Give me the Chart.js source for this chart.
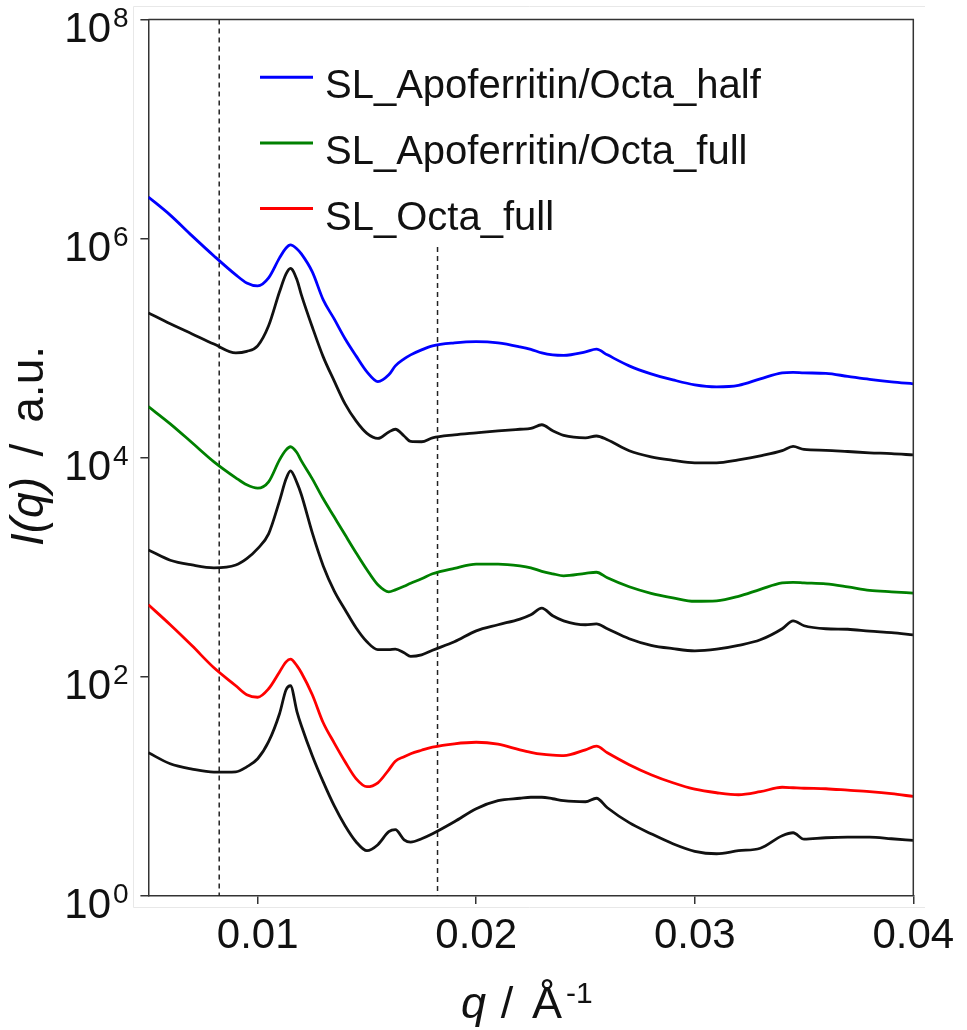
<!DOCTYPE html>
<html>
<head>
<meta charset="utf-8">
<script src="https://cdn.jsdelivr.net/npm/chart.js@4.4.0/dist/chart.umd.min.js"></script>
<style>
  html, body { margin: 0; padding: 0; background: #fff; }
  #wrap { width: 967px; height: 1030px; }
</style>
</head>
<body>
<div id="wrap"><canvas id="chart"></canvas></div>
<script>
// q grid (1/Angstrom)
const qValues = [0.005, 0.006, 0.007, 0.008, 0.009, 0.0095, 0.010, 0.0105, 0.011, 0.0113,
  0.0115, 0.0118, 0.012, 0.0125, 0.013, 0.0135, 0.014, 0.0145, 0.015, 0.0155,
  0.016, 0.0163, 0.0167, 0.017, 0.0175, 0.018, 0.019, 0.020, 0.021, 0.022,
  0.0225, 0.023, 0.0235, 0.024, 0.025, 0.0255, 0.026, 0.027, 0.028, 0.029,
  0.030, 0.031, 0.032, 0.033, 0.034, 0.0345, 0.035, 0.036, 0.037, 0.038, 0.039, 0.040];

// SL_Apoferritin/Octa_half (blue)
const apoOctaHalf = [2.4e6, 1.64e6, 1.06e6, 6.95e5, 4.67e5, 3.94e5, 3.70e5, 4.38e5, 6.67e5, 8.22e5,
  8.76e5, 8.05e5, 7.25e5, 4.97e5, 2.76e5, 1.85e5, 1.22e5, 8.51e4, 6.08e4, 4.96e4,
  5.71e4, 6.90e4, 7.99e4, 8.69e4, 9.65e4, 1.05e5, 1.12e5, 1.15e5, 1.12e5, 1.03e5,
  9.75e4, 9.06e4, 8.69e4, 8.60e4, 9.25e4, 9.79e4, 8.69e4, 6.90e4, 5.83e4, 5.14e4,
  4.63e4, 4.44e4, 4.58e4, 5.25e4, 5.95e4, 6.02e4, 5.95e4, 5.89e4, 5.53e4, 5.19e4, 4.93e4, 4.73e4];
// black curve under the blue one
const blackUpper = [2.10e5, 1.67e5, 1.35e5, 1.09e5, 9.06e4, 9.35e4, 1.05e5, 1.60e5, 3.27e5, 4.76e5,
  5.35e5, 4.20e5, 3.07e5, 1.56e5, 8.33e4, 5.03e4, 3.10e4, 2.17e4, 1.67e4, 1.50e4,
  1.72e4, 1.82e4, 1.58e4, 1.41e4, 1.40e4, 1.52e4, 1.62e4, 1.69e4, 1.76e4, 1.82e4,
  1.85e4, 2.00e4, 1.76e4, 1.60e4, 1.52e4, 1.58e4, 1.46e4, 1.16e4, 1.02e4, 9.47e3,
  8.98e3, 8.98e3, 9.57e3, 1.04e4, 1.16e4, 1.27e4, 1.19e4, 1.17e4, 1.14e4, 1.11e4, 1.09e4, 1.06e4];
// SL_Apoferritin/Octa_full (green)
const apoOctaFull = [2.93e4, 2.04e4, 1.37e4, 9.18e3, 6.56e3, 5.66e3, 5.28e3, 6.03e3, 9.57e3, 1.18e4,
  1.26e4, 1.11e4, 9.37e3, 6.42e3, 4.22e3, 2.89e3, 1.98e3, 1.36e3, 949, 692,
  598, 623, 671, 715, 786, 873, 979, 1.07e3, 1.07e3, 1.03e3,
  990, 919, 873, 837, 882, 901, 802, 664, 579, 527,
  490, 495, 544, 630, 722, 730, 722, 707, 664, 617, 598, 582];
// black curve under the green one
const blackMiddle = [1.44e3, 1.16e3, 1.05e3, 990, 1.05e3, 1.20e3, 1.48e3, 2.02e3, 4.04e3, 6.42e3,
  7.60e3, 5.90e3, 4.59e3, 2.06e3, 1.03e3, 611, 410, 281, 209, 177,
  177, 179, 166, 154, 159, 175, 209, 263, 299, 337,
  369, 424, 361, 325, 299, 305, 275, 223, 194, 181,
  173, 179, 194, 218, 275, 325, 293, 275, 272, 261, 253, 242];
// SL_Octa_full (red)
const octaFull = [455, 299, 192, 121, 83.0, 68.7, 65.2, 77.9, 111, 137,
  145, 126, 109, 68.7, 38.1, 25.0, 16.8, 11.8, 9.94, 10.8,
  14.2, 17.0, 18.7, 19.9, 21.4, 22.8, 24.5, 25.3, 24.3, 21.6,
  20.5, 19.7, 19.3, 19.1, 21.6, 23.3, 20.3, 15.8, 12.8, 10.8,
  9.43, 8.76, 8.40, 8.95, 9.83, 9.73, 9.63, 9.53, 9.24, 8.95, 8.58, 8.11];
// black curve under the red one
const blackLower = [20.3, 16.1, 14.4, 13.5, 13.6, 15.1, 17.9, 25.6, 46.1, 76.3,
  83.0, 48.0, 35.8, 19.1, 11.0, 6.67, 4.38, 3.13, 2.59, 2.94,
  3.86, 4.03, 3.26, 3.10, 3.33, 3.70, 4.76, 6.26, 7.41, 7.80,
  7.97, 7.97, 7.72, 7.41, 7.25, 7.80, 6.39, 4.67, 3.70, 3.00,
  2.56, 2.43, 2.59, 2.73, 3.55, 3.78, 3.30, 3.40, 3.44, 3.44, 3.33, 3.22];

// dashed marker lines
const dashQ = [0.00824, 0.01823];
const dashTop = [1e8, 8.4e5];
const dashBottom = 1;

// ticks
const xTickValues = [0.01, 0.02, 0.03, 0.04];
const xTickLabels = ['0.01', '0.02', '0.03', '0.04'];
const yTickValues = [1, 1e2, 1e4, 1e6, 1e8];
const yTickExps = ['0', '2', '4', '6', '8'];

const legendLabels = ['SL_Apoferritin/Octa_half', 'SL_Apoferritin/Octa_full', 'SL_Octa_full'];
const legendColors = ['#0000ff', '#008000', '#ff0000'];

const FONT = '"Liberation Sans", Arial, Helvetica, sans-serif';

function toPoints(values) {
    return qValues.map((q, i) => ({ x: q, y: values[i] }));
}

function curve(values, color) {
    return {
        data: toPoints(values),
        borderColor: color,
        borderWidth: 2.8,
        pointRadius: 0,
        cubicInterpolationMode: 'monotone',
        fill: false
    };
}

const datasets = [
    curve(apoOctaHalf, legendColors[0]),
    curve(blackUpper, '#111111'),
    curve(apoOctaFull, legendColors[1]),
    curve(blackMiddle, '#111111'),
    curve(octaFull, legendColors[2]),
    curve(blackLower, '#111111')
];
dashQ.forEach((q, i) => {
    datasets.push({
        data: [{ x: q, y: dashTop[i] }, { x: q, y: dashBottom }],
        borderColor: '#222222',
        borderWidth: 1.5,
        borderDash: [5, 4],
        pointRadius: 0,
        fill: false
    });
});

// Draws the frame, tick labels, axis titles and legend
const decorPlugin = {
    id: 'decor',
    beforeDraw(chart) {
        const ctx = chart.ctx;
        ctx.save();
        ctx.fillStyle = '#ffffff';
        ctx.fillRect(0, 0, chart.width, chart.height);
        ctx.strokeStyle = '#e8e8e8';
        ctx.lineWidth = 1;
        ctx.beginPath();
        ctx.moveTo(925, 6.5);
        ctx.lineTo(133.5, 6.5);
        ctx.lineTo(133.5, 907.5);
        ctx.lineTo(925, 907.5);
        ctx.stroke();
        ctx.restore();
    },
    afterDraw(chart) {
        const ctx = chart.ctx;
        const xs = chart.scales.x;
        const ys = chart.scales.y;
        const area = chart.chartArea;
        ctx.save();

        // top and right spines
        ctx.strokeStyle = '#333333';
        ctx.lineWidth = 1.5;
        ctx.beginPath();
        ctx.moveTo(area.left, area.top);
        ctx.lineTo(area.right, area.top);
        ctx.lineTo(area.right, area.bottom);
        ctx.stroke();

        ctx.fillStyle = '#111111';
        ctx.textBaseline = 'alphabetic';

        // y tick labels 10^n
        yTickValues.forEach((v, i) => {
            const y = ys.getPixelForValue(v);
            ctx.font = '42px ' + FONT;
            ctx.textAlign = 'right';
            ctx.fillText('10', 111, y + 22);
            ctx.font = '28px ' + FONT;
            ctx.textAlign = 'left';
            ctx.fillText(yTickExps[i], 113, y + 7);
        });

        // x tick labels
        ctx.font = '42px ' + FONT;
        ctx.textAlign = 'center';
        xTickValues.forEach((v, i) => {
            ctx.fillText(xTickLabels[i], xs.getPixelForValue(v), 948);
        });

        // x title: q / Å^-1
        ctx.textAlign = 'left';
        ctx.font = 'italic 45px ' + FONT;
        ctx.fillText('q', 461, 1018);
        ctx.font = '45px ' + FONT;
        ctx.textAlign = 'center';
        ctx.fillText('/', 507, 1018);
        ctx.textAlign = 'left';
        ctx.fillText('Å', 532, 1018);
        ctx.font = '30px ' + FONT;
        ctx.fillText('-1', 566, 1003);

        // y title: I(q) / a.u.  (rotated, reading upwards)
        ctx.save();
        ctx.translate(43, 0);
        ctx.rotate(-Math.PI / 2);
        ctx.font = 'italic 46px ' + FONT;
        ctx.textAlign = 'left';
        ctx.fillText('I(q)', -546, 0);
        ctx.font = '46px ' + FONT;
        ctx.textAlign = 'center';
        ctx.fillText('/', -450, 0);
        ctx.textAlign = 'right';
        ctx.fillText('a.u.', -346, 0);
        ctx.restore();

        // legend
        legendLabels.forEach((label, i) => {
            const ly = 77.3 + i * 65.6;
            ctx.strokeStyle = legendColors[i];
            ctx.lineWidth = 3;
            ctx.beginPath();
            ctx.moveTo(260, ly);
            ctx.lineTo(313, ly);
            ctx.stroke();
            ctx.font = '40px ' + FONT;
            ctx.fillStyle = '#111111';
            ctx.textAlign = 'left';
            ctx.fillText(label, 325, ly + 21);
        });

        ctx.restore();
    }
};

new Chart(document.getElementById('chart').getContext('2d'), {
    type: 'line',
    data: { datasets: datasets },
    options: {
        responsive: true,
        maintainAspectRatio: false,
        animation: false,
        layout: { padding: { left: 0, top: 19.5, right: 53.7, bottom: 0 } },
        scales: {
            x: {
                type: 'linear',
                min: 0.005,
                max: 0.04,
                afterBuildTicks: scale => {
                    scale.ticks = xTickValues.map(v => ({ value: v }));
                },
                afterFit: scale => { scale.height = 134; },
                ticks: { display: false },
                grid: {
                    drawOnChartArea: false,
                    drawTicks: true,
                    tickLength: 8,
                    color: '#333333',
                    lineWidth: 1.5
                },
                border: { display: true, color: '#333333', width: 1.5 }
            },
            y: {
                type: 'logarithmic',
                min: 1,
                max: 1e8,
                afterBuildTicks: scale => {
                    scale.ticks = yTickValues.map(v => ({ value: v }));
                },
                afterFit: scale => { scale.width = 148.4; },
                ticks: { display: false },
                grid: {
                    drawOnChartArea: false,
                    drawTicks: true,
                    tickLength: 8,
                    color: '#333333',
                    lineWidth: 1.5
                },
                border: { display: true, color: '#333333', width: 1.5 }
            }
        },
        plugins: {
            legend: { display: false },
            tooltip: { enabled: false }
        }
    },
    plugins: [decorPlugin]
});
</script>
</body>
</html>
